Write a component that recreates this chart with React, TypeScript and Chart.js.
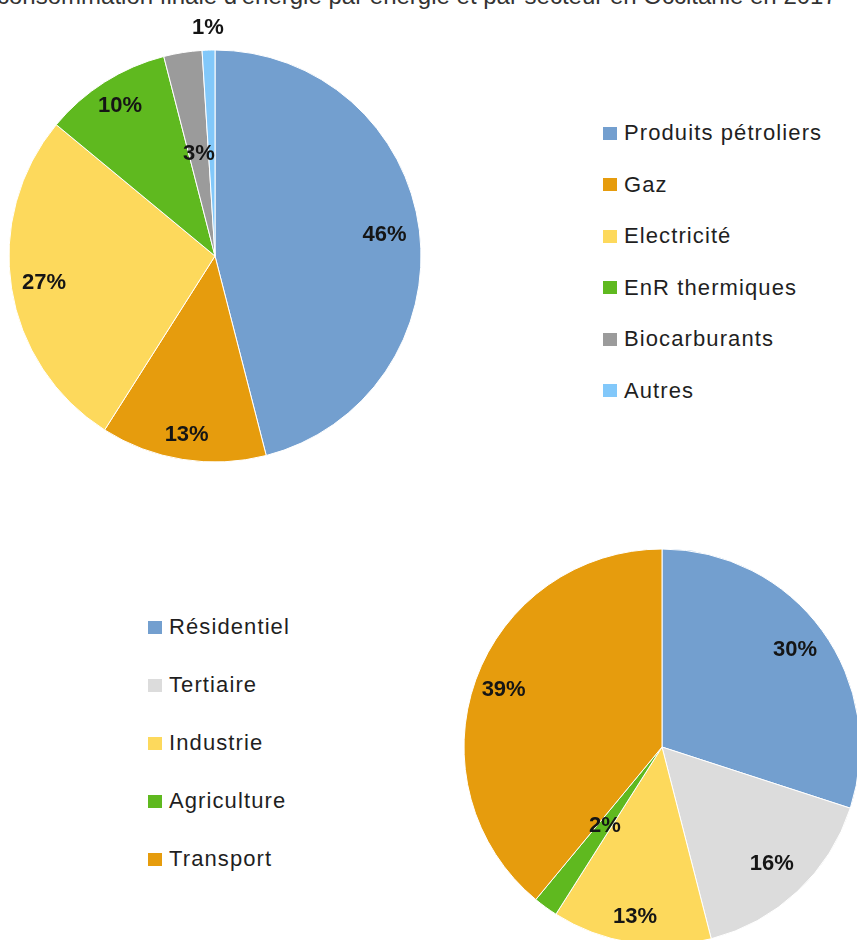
import React, { useEffect, useRef } from "react";
import { Chart, registerables } from "chart.js";

Chart.register(...registerables);

const TITLE = "consommation finale d'énergie par énergie et par secteur en Occitanie en 2017";

const energyLabels = ["Produits pétroliers", "Gaz", "Electricité", "EnR thermiques", "Biocarburants", "Autres"];
const energyValues = [46, 13, 27, 10, 3, 1];
const energyColors = ["#739FCF", "#E69C0D", "#FDD95C", "#5FB91F", "#9B9B9B", "#82C8FA"];
const energyLabelRadius = [0.83, 0.88, 0.84, 0.86, 0.5, 1.11];

const sectorLabels = ["Résidentiel", "Tertiaire", "Industrie", "Agriculture", "Transport"];
const sectorValues = [30, 16, 13, 2, 39];
const sectorColors = ["#739FCF", "#DCDCDC", "#FDD95C", "#5FB91F", "#E69C0D"];
const sectorLabelRadius = [0.83, 0.81, 0.87, 0.49, 0.85];

const FONT = "'Liberation Sans', Arial, sans-serif";

function makeLabelPlugin(radii: number[]) {
  return {
    id: "pctLabels",
    afterDatasetsDraw(chart: any) {
      const ctx = chart.ctx;
      const meta = chart.getDatasetMeta(0);
      const data = chart.data.datasets[0].data as number[];
      ctx.save();
      ctx.font = `bold 22px ${FONT}`;
      ctx.fillStyle = "#151515";
      ctx.textAlign = "center";
      ctx.textBaseline = "middle";
      meta.data.forEach((arc: any, i: number) => {
        const p = arc.getProps(["x", "y", "startAngle", "endAngle", "outerRadius"], true);
        const mid = (p.startAngle + p.endAngle) / 2;
        const r = p.outerRadius * radii[i];
        ctx.fillText(`${data[i]}%`, p.x + Math.cos(mid) * r, p.y + Math.sin(mid) * r);
      });
      ctx.restore();
    },
  };
}

function PieCanvas(props: {
  labels: string[];
  values: number[];
  colors: string[];
  radii: number[];
  radius: number;
  width: number;
  height: number;
  style: React.CSSProperties;
}) {
  const ref = useRef<HTMLCanvasElement>(null);
  useEffect(() => {
    if (!ref.current) return;
    const chart = new Chart(ref.current, {
      type: "pie",
      data: {
        labels: props.labels,
        datasets: [
          {
            data: props.values,
            backgroundColor: props.colors,
            borderColor: "#ffffff",
            borderWidth: 1,
          },
        ],
      },
      options: {
        responsive: false,
        animation: false,
        radius: props.radius,
        layout: { padding: 0 },
        plugins: { legend: { display: false }, tooltip: { enabled: false }, title: { display: false } },
      } as any,
      plugins: [makeLabelPlugin(props.radii)],
    });
    return () => chart.destroy();
  }, []);
  return (
    <canvas
      ref={ref}
      width={props.width}
      height={props.height}
      style={{ position: "absolute", width: props.width, height: props.height, ...props.style }}
    />
  );
}

function Legend(props: { labels: string[]; colors: string[]; left: number; top: number; step: number }) {
  return (
    <>
      {props.labels.map((l, i) => (
        <div
          key={l}
          style={{
            position: "absolute",
            left: props.left,
            top: props.top + i * props.step - 12,
            height: 24,
            display: "flex",
            alignItems: "center",
            whiteSpace: "nowrap",
            fontFamily: FONT,
            fontSize: 22,
            letterSpacing: 1.1,
            color: "#1f1f1f",
          }}
        >
          <span style={{ display: "inline-block", width: 14, height: 13, background: props.colors[i], marginRight: 7 }} />
          <span>{l}</span>
        </div>
      ))}
    </>
  );
}

export default function App() {
  return (
    <div
      style={{
        position: "absolute",
        left: 0,
        top: 0,
        width: 857,
        height: 940,
        overflow: "hidden",
        background: "#ffffff",
      }}
    >
      <div
        style={{
          position: "absolute",
          left: -3,
          top: -16,
          whiteSpace: "nowrap",
          fontFamily: FONT,
          fontSize: 24,
          lineHeight: "24px",
          color: "#333",
        }}
      >
        {TITLE}
      </div>
      <PieCanvas
        labels={energyLabels}
        values={energyValues}
        colors={energyColors}
        radii={energyLabelRadius}
        radius={206}
        width={430}
        height={512}
        style={{ left: 0, top: 0 }}
      />
      <Legend labels={energyLabels} colors={energyColors} left={603} top={133} step={51.5} />
      <PieCanvas
        labels={sectorLabels}
        values={sectorValues}
        colors={sectorColors}
        radii={sectorLabelRadius}
        radius={198}
        width={430}
        height={430}
        style={{ left: 447, top: 532 }}
      />
      <Legend labels={sectorLabels} colors={sectorColors} left={148} top={627} step={58} />
    </div>
  );
}
